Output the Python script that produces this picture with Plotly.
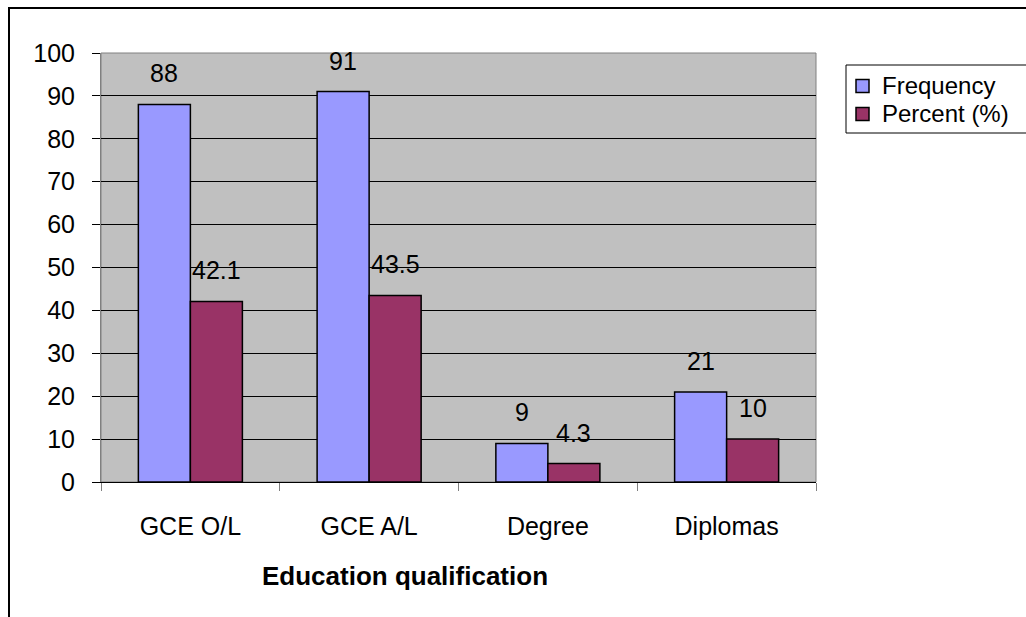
import plotly.graph_objects as go

categories = ["GCE O/L", "GCE A/L", "Degree", "Diplomas"]
frequency = [88, 91, 9, 21]
percent = [42.1, 43.5, 4.3, 10]
freq_labels = ["88", "91", "9", "21"]
pct_labels = ["42.1", "43.5", "4.3", "10"]
series_names = ["Frequency", "Percent (%)"]
series_colors = ["#9999FF", "#993366"]
y_ticks = list(range(0, 101, 10))

FONT = "Liberation Sans, Arial, sans-serif"
FS = 25

# plot area in pixels
L, R, T, B = 101, 816, 53, 482
def px(x):
    return (x - L) / (R - L)
def py(y):
    return (B - y) / (B - T)

fig = go.Figure()
for name, vals, col in zip(series_names, [frequency, percent], series_colors):
    fig.add_trace(go.Bar(name=name, x=categories, y=vals, showlegend=False,
                         marker=dict(color=col, line=dict(color="black", width=1.5))))

ann = []
for c, v, t in zip(categories, frequency, freq_labels):
    ann.append(dict(x=c, y=v, text=t, showarrow=False, xshift=-26, yshift=31,
                    yanchor="middle", font=dict(size=FS, color="black", family=FONT)))
for c, v, t in zip(categories, percent, pct_labels):
    ann.append(dict(x=c, y=v, text=t, showarrow=False, xshift=26, yshift=31,
                    yanchor="middle", font=dict(size=FS, color="black", family=FONT)))
ann.append(dict(x=px(405), y=py(576), xref="paper", yref="paper", text="<b>Education qualification</b>",
                showarrow=False, yanchor="middle", font=dict(size=26, color="black", family=FONT)))

shapes = [
    dict(type="rect", xref="paper", yref="paper", x0=0, x1=1, y0=0, y1=1,
         line=dict(color="#808080", width=1), layer="below"),
    dict(type="rect", xref="paper", yref="paper", x0=px(9), x1=px(1100), y0=py(700), y1=py(8),
         line=dict(color="black", width=2)),
    # legend box
    dict(type="rect", xref="paper", yref="paper", x0=px(846), x1=px(1100), y0=py(133), y1=py(65),
         line=dict(color="black", width=1), fillcolor="white"),
]
legend_y = [86, 114]
for name, col, ly in zip(series_names, series_colors, legend_y):
    shapes.append(dict(type="rect", xref="paper", yref="paper", x0=px(856), x1=px(869),
                       y0=py(ly + 6.5), y1=py(ly - 6.5), line=dict(color="black", width=1.5),
                       fillcolor=col))
    ann.append(dict(x=px(880), y=py(ly), xref="paper", yref="paper", text=name, showarrow=False,
                    xanchor="left", yanchor="middle", font=dict(size=24, color="black", family=FONT)))

fig.update_layout(
    width=1026, height=617,
    margin=dict(l=L, r=1026 - R, t=T, b=617 - B),
    paper_bgcolor="white", plot_bgcolor="#C0C0C0",
    barmode="group", bargap=0.418, bargroupgap=0,
    font=dict(family=FONT, size=FS, color="black"),
    annotations=ann,
    shapes=shapes,
    showlegend=False,
)
fig.update_yaxes(range=[0, 100], tickvals=y_ticks, showgrid=True, gridcolor="black", gridwidth=1,
                 showline=True, linecolor="#808080", linewidth=1,
                 ticks="outside", ticklen=8, tickcolor="black", ticklabelstandoff=12,
                 zeroline=False, tickfont=dict(size=FS))
fig.update_xaxes(showline=True, linecolor="black", linewidth=1, ticks="outside", ticklen=8,
                 tickcolor="#808080", tickson="boundaries", ticklabelstandoff=22,
                 tickfont=dict(size=FS))

fig.write_html("out.html")
